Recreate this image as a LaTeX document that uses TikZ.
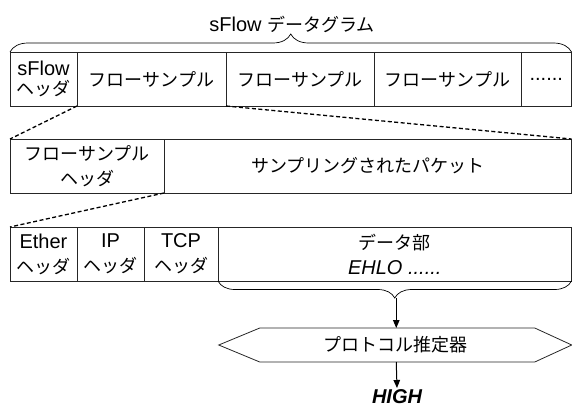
\documentclass[tikz,border=0pt]{standalone}
\usepackage{fontspec}
\setmainfont{Liberation Sans}
\newfontfamily\jp[Scale=0.9]{Noto Sans CJK JP}
\usetikzlibrary{decorations.pathreplacing,arrows.meta,calc}
\begin{document}
\begin{tikzpicture}[x=1pt,y=-1pt,
  cell/.style={draw=black!85,line width=0.8pt,minimum height=54pt,inner sep=0pt,outer sep=0pt,align=center,font=\fontsize{20}{25}\selectfont},
  dline/.style={line width=1.3pt,dash pattern=on 4pt off 2.5pt},
  arr/.style={line width=1pt,-{Triangle[length=8pt,width=6.5pt]}},
  brc/.style={decorate,decoration={brace,amplitude=18pt},line width=0.7pt},
  lbl/.style={inner sep=0pt,outer sep=0pt,font=\fontsize{20}{24}\selectfont}]
\useasboundingbox (0,0) rectangle (572,408);
% title and top brace
\node[lbl] (title) at (292,24) {sFlow {\jp データグラム}};
% row 1
\node[cell,minimum width=67pt,font=\fontsize{20}{20.5}\selectfont] (h1) at (43.5,79) {sFlow\\{\jp ヘッダ}};
\node[cell,minimum width=149pt] (s1) at (151.5,79) {\jp フローサンプル};
\node[cell,minimum width=148pt] (s2) at (300,79) {\jp フローサンプル};
\node[cell,minimum width=147pt] (s3) at (447.5,79) {\jp フローサンプル};
\node[cell,minimum width=50.5pt] (s4) at (546.25,79) {......};
\draw[brc] (h1.north west) -- (s4.north east);
% row 2
\node[cell,minimum width=154pt] (fh) at (87,166) {{\jp フローサンプル}\\{\jp ヘッダ}};
\node[cell,minimum width=407.5pt] (sp) at (367.75,166) {\jp サンプリングされたパケット};
% row 3
\node[cell,minimum width=67pt] (eth) at (43.5,254) {Ether\\{\jp ヘッダ}};
\node[cell,minimum width=67pt] (ip) at (110.5,254) {IP\\{\jp ヘッダ}};
\node[cell,minimum width=74pt] (tcp) at (181,254) {TCP\\{\jp ヘッダ}};
\node[cell,minimum width=353.5pt] (data) at (394.75,254) {{\jp データ部}\\\textit{EHLO ......}};
% zoom lines
\draw[dline] (s1.south west) -- (fh.north west);
\draw[dline] (s1.south east) -- (sp.north east);
\draw[dline] (fh.south east) -- (eth.north west);
% bottom brace
\draw[brc,decoration={amplitude=17pt}] (data.south east) -- (data.south west);
\coordinate (btip) at ($(data.south)+(1.5,17)$);
% estimator
\node[lbl,minimum width=353pt,minimum height=34pt] (hex) at (395.25,345) {\jp プロトコル推定器};
\draw[line width=0.8pt,draw=black!85] (hex.west) -- ($(hex.north west)+(41,0)$) -- ($(hex.north east)+(-37,0)$) -- (hex.east) -- ($(hex.south east)+(-37,0)$) -- ($(hex.south west)+(41,0)$) -- cycle;
\node[lbl,inner sep=1.5pt,anchor=north,font=\fontsize{20}{24}\selectfont\bfseries\itshape] (high) at (397,388) {HIGH};
\draw[arr] (btip) -- (btip |- hex.north);
\draw[arr] (btip |- hex.south) -- (high.north);
\end{tikzpicture}
\end{document}
